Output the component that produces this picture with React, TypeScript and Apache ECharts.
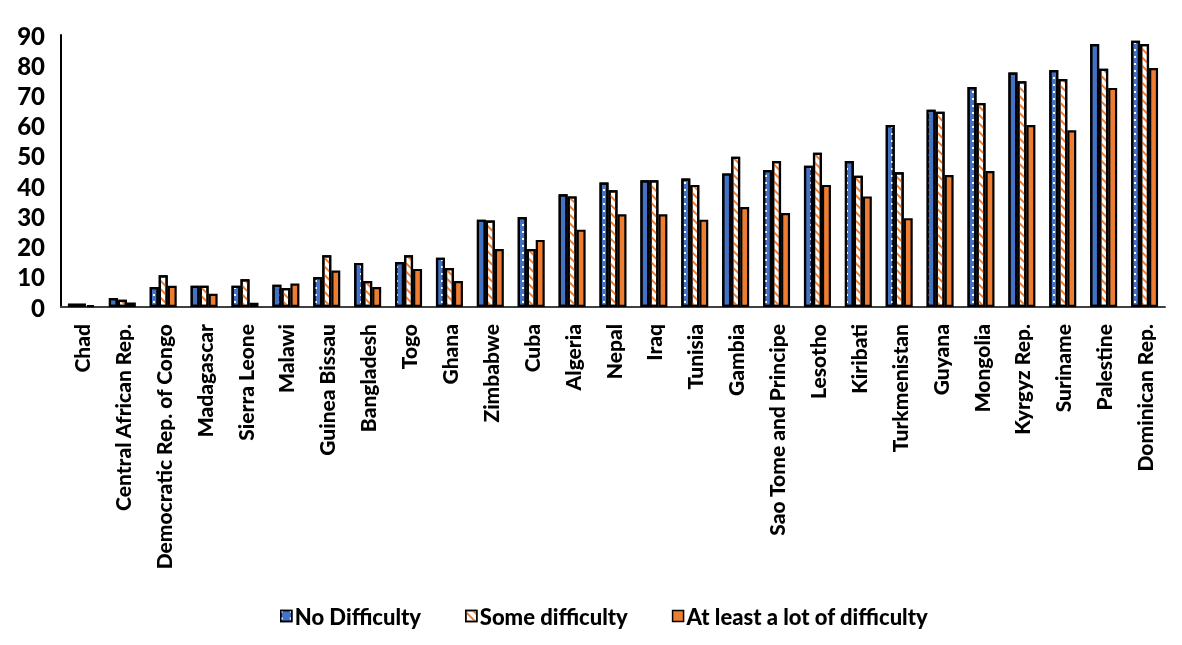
import React, { useEffect, useRef } from "react";
import * as echarts from "echarts";

const categories = [
  "Chad", "Central African Rep.", "Democratic Rep. of Congo", "Madagascar", "Sierra Leone",
  "Malawi", "Guinea Bissau", "Bangladesh", "Togo", "Ghana", "Zimbabwe", "Cuba", "Algeria",
  "Nepal", "Iraq", "Tunisia", "Gambia", "Sao Tome and Principe", "Lesotho", "Kiribati",
  "Turkmenistan", "Guyana", "Mongolia", "Kyrgyz Rep.", "Suriname", "Palestine", "Dominican Rep.",
];
const noDifficulty = [1.1, 3.0, 6.6, 7.0, 7.0, 7.4, 9.9, 14.6, 14.9, 16.3, 28.9, 29.8, 37.3, 41.2, 41.9, 42.5, 44.2, 45.3, 46.7, 48.3, 60.2, 65.3, 72.8, 77.6, 78.4, 87.0, 88.1];
const someDifficulty = [1.1, 2.4, 10.5, 7.0, 9.2, 6.3, 17.1, 8.6, 17.1, 12.9, 28.6, 19.2, 36.6, 38.6, 41.9, 40.4, 49.7, 48.3, 51.0, 43.4, 44.6, 64.6, 67.5, 74.7, 75.4, 78.8, 87.0];
const lotDifficulty = [0.6, 1.5, 7.0, 4.4, 1.4, 7.8, 12.1, 6.6, 12.6, 8.6, 19.2, 22.2, 25.6, 30.7, 30.7, 28.9, 33.1, 31.1, 40.4, 36.6, 29.4, 43.7, 45.0, 60.2, 58.5, 72.5, 79.1];
const seriesNames = ["No Difficulty", "Some difficulty", "At least a lot of difficulty"];

const FONT = "Lato";

export default function App() {
  const ref = useRef<HTMLDivElement>(null);
  useEffect(() => {
    if (!ref.current) return;
    const chart = echarts.init(ref.current, undefined, { renderer: "svg" });
    const base = { type: "bar", barWidth: 9, barGap: "0%" };
    chart.setOption({
      animation: false,
      grid: { left: 61, right: 17, top: 35, bottom: 338, containLabel: false },
      legend: {
        bottom: 13,
        left: 275,
        icon: "rect",
        itemWidth: 11,
        itemHeight: 11,
        itemGap: 44,
        itemStyle: { borderWidth: 1.5, borderColor: "#000" },
        textStyle: { fontFamily: FONT, fontWeight: 900, fontSize: 22, color: "#000", padding: [0, 0, 0, -2] },
        data: seriesNames,
      },
      xAxis: {
        type: "category",
        data: categories,
        axisLine: { lineStyle: { color: "#404040", width: 2 } },
        axisTick: { show: false },
        axisLabel: {
          rotate: 90,
          interval: 0,
          margin: 17,
          fontFamily: FONT,
          fontWeight: 900,
          fontSize: 21,
          color: "#000",
        },
      },
      yAxis: {
        type: "value",
        min: 0,
        max: 90,
        interval: 10,
        axisLine: { show: true, lineStyle: { color: "#000", width: 2 } },
        axisTick: { show: false },
        splitLine: { show: false },
        axisLabel: { fontFamily: FONT, fontWeight: 900, fontSize: 24, color: "#000", margin: 16 },
      },
      series: [
        {
          ...base,
          name: seriesNames[0],
          data: noDifficulty,
          itemStyle: {
            color: "#4472C4",
            borderColor: "#000",
            borderWidth: 2.2,
            decal: { symbol: "rect", color: "#ffffff", dashArrayX: [2, 7], dashArrayY: [2, 5], symbolSize: 1 },
          },
        },
        {
          ...base,
          name: seriesNames[1],
          data: someDifficulty,
          itemStyle: {
            color: "#ffffff",
            borderColor: "#000",
            borderWidth: 2.2,
            decal: { symbol: "rect", color: "#ED7D31", dashArrayX: [1, 0], dashArrayY: [1.8, 3.4], rotation: Math.PI / 4, symbolSize: 1 },
          },
        },
        {
          ...base,
          name: seriesNames[2],
          data: lotDifficulty,
          itemStyle: { color: "#ED7D31", borderColor: "#000", borderWidth: 2.2 },
        },
      ],
    });
    return () => chart.dispose();
  }, []);
  return <div ref={ref} style={{ position: "fixed", left: 0, top: 0, width: 1182, height: 645 }} />;
}
